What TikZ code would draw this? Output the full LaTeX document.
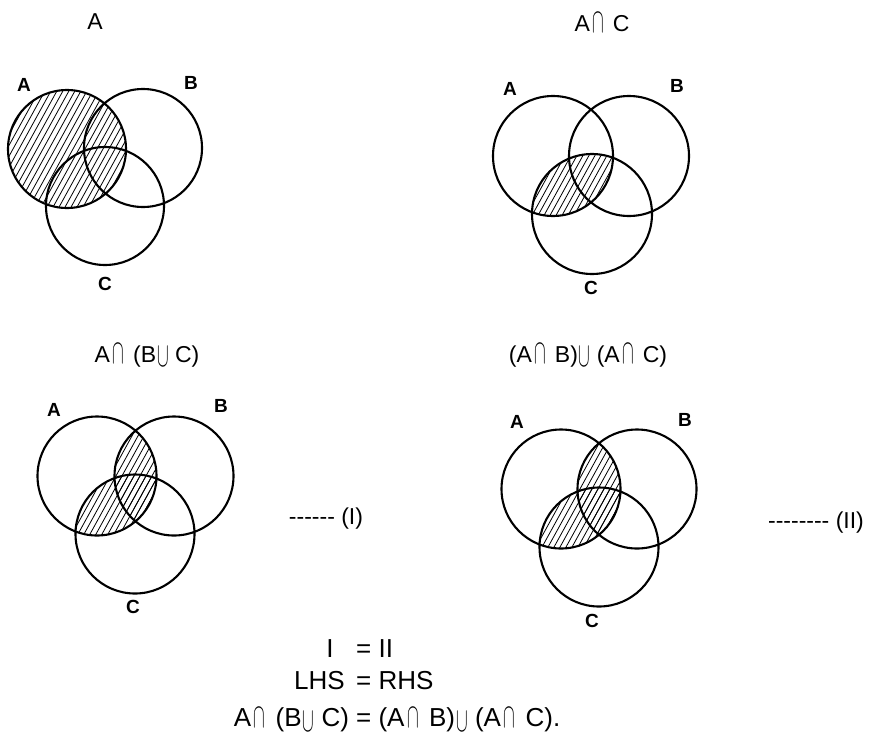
\documentclass[tikz,border=0pt]{standalone}
\usepackage{fontspec}
\setmainfont{Liberation Sans}
\usepackage{graphicx}
\newcommand\capsym{\hspace{0.1em}\raisebox{-0.05em}{\scalebox{0.7}[1.4]{\ensuremath{\cap}}}\hspace{0.12em}}
\newcommand\cupsym{\hspace{0.04em}\raisebox{-0.2em}{\scalebox{0.7}[1.4]{\ensuremath{\cup}}}}
\newcommand\hatchat[2]{\foreach \k in {-180,-174,...,180}{\draw[hatchline] ({#1+\k-55},{#2+100}) -- ({#1+\k+55},{#2-100});}}
\tikzset{
  circ/.style={line width=2.1pt},
  hatchline/.style={line width=0.8pt},
  lbl/.style={font=\fontsize{19}{22}\selectfont\bfseries, inner sep=0pt},
  ttl/.style={font=\fontsize{23}{27}\selectfont, inner sep=0pt, anchor=base},
  eqn/.style={font=\fontsize{26}{30}\selectfont, inner sep=0pt}
}
\begin{document}
\begin{tikzpicture}[x=1pt,y=-1pt]
\useasboundingbox (0,0) rectangle (875,742);
% ---------- centres ----------
\coordinate (tlA) at (67,149);  \coordinate (tlB) at (143,148); \coordinate (tlC) at (105,206);
\coordinate (trA) at (553,156); \coordinate (trB) at (629,156); \coordinate (trC) at (592,214);
\coordinate (blA) at (97,476);  \coordinate (blB) at (174,476); \coordinate (blC) at (135,534);
\coordinate (brA) at (561,489); \coordinate (brB) at (637,489); \coordinate (brC) at (599,547);
% ---------- hatching ----------
\begin{scope}\clip (tlA) circle (59); \hatchat{67}{149}\end{scope}
\begin{scope}\clip (trA) circle (60); \clip (trC) circle (60); \hatchat{570}{190}\end{scope}
\begin{scope}\clip (blA) circle (59.5); \clip (blB) circle (59.5); \hatchat{130}{505}\end{scope}
\begin{scope}\clip (blA) circle (59.5); \clip (blC) circle (59.5); \hatchat{130}{505}\end{scope}
\begin{scope}\clip (brA) circle (59.5); \clip (brB) circle (59.5); \hatchat{594}{518}\end{scope}
\begin{scope}\clip (brA) circle (59.5); \clip (brC) circle (59.5); \hatchat{594}{518}\end{scope}
% ---------- circles ----------
\draw[circ] (tlA) circle (59) (tlB) circle (59) (tlC) circle (59);
\draw[circ] (trA) circle (60) (trB) circle (60) (trC) circle (60);
\draw[circ] (blA) circle (59.5) (blB) circle (59.5) (blC) circle (59.5);
\draw[circ] (brA) circle (59.5) (brB) circle (59.5) (brC) circle (59.5);
% ---------- set labels ----------
\node[lbl] (ltlA) at (24,85) {A};  \node[lbl] (ltlB) at (191,83) {B}; \node[lbl] (ltlC) at (105,284) {C};
\node[lbl] (ltrA) at (510,89) {A}; \node[lbl] (ltrB) at (677,86) {B}; \node[lbl] (ltrC) at (591,288) {C};
\node[lbl] (lblA) at (54,410) {A}; \node[lbl] (lblB) at (221,406) {B}; \node[lbl] (lblC) at (133,607) {C};
\node[lbl] (lbrA) at (517,422) {A}; \node[lbl] (lbrB) at (685,420) {B}; \node[lbl] (lbrC) at (592,621) {C};
% ---------- titles ----------
\node[ttl] (t1) at (95,29) {A};
\node[ttl] (t2) at (602,31) {A\capsym{} C};
\node[ttl] (t3) at (147,362) {A\capsym{} (B\cupsym{} C)};
\node[ttl] (t4) at (588,362) {(A\capsym{} B)\cupsym{} (A\capsym{} C)};
\node[ttl] (m1) at (326,524) {-{}-{}-{}-{}-{}- (I)};
\node[ttl] (m2) at (816,528) {-{}-{}-{}-{}-{}-{}-{}- (II)};
% ---------- conclusion ----------
\node[eqn, anchor=base] (e1l) at (330,657) {I};
\node[eqn, anchor=base west] (e1r) at (356,657) {= II};
\node[eqn, anchor=base east] (e2l) at (345,689) {LHS};
\node[eqn, anchor=base west] (e2r) at (356,689) {= RHS};
\node[eqn, anchor=base] (e3) at (397,726) {A\capsym{} (B\cupsym{} C) = (A\capsym{} B)\cupsym{} (A\capsym{} C).};
\end{tikzpicture}
\end{document}
